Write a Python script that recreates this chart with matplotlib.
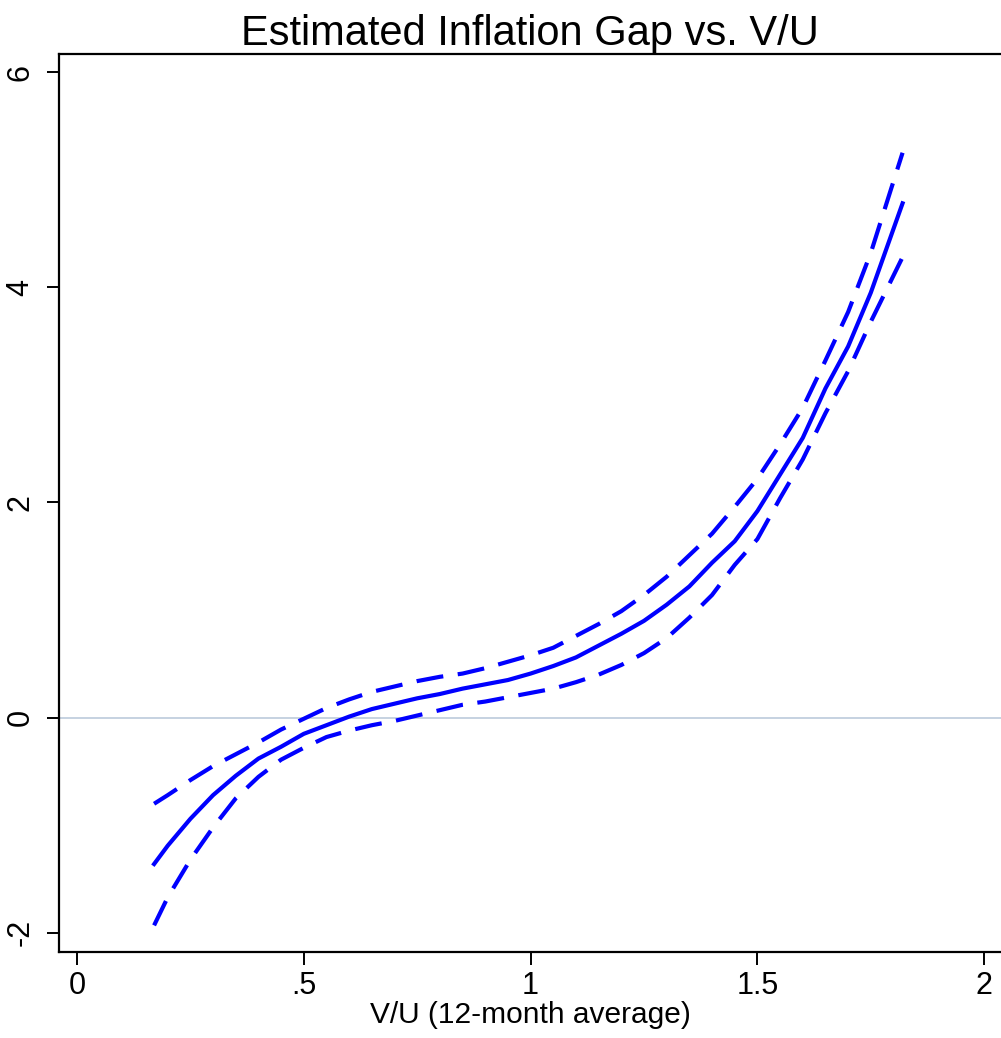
#!/usr/bin/env python3
"""
Estimated inflation gap vs. V/U, with confidence band
"""

import matplotlib
matplotlib.use("Agg")
import matplotlib.pyplot as plt

# V/U grid (12-month average)
vu = [0.17, 0.20, 0.25, 0.30, 0.35, 0.40, 0.45, 0.50, 0.55, 0.60, 0.65, 0.70,
      0.75, 0.80, 0.85, 0.90, 0.95, 1.00, 1.05, 1.10, 1.15, 1.20, 1.25, 1.30,
      1.35, 1.40, 1.45, 1.50, 1.55, 1.60, 1.65, 1.70, 1.75, 1.82]

# estimated gap
gap = [-1.36, -1.19, -0.94, -0.72, -0.54, -0.38, -0.27, -0.15, -0.07, 0.01,
       0.08, 0.13, 0.18, 0.22, 0.27, 0.31, 0.35, 0.41, 0.48, 0.56, 0.67, 0.78,
       0.90, 1.05, 1.22, 1.44, 1.64, 1.92, 2.26, 2.60, 3.06, 3.45, 3.95, 4.78]

# upper / lower bands
upper = [-0.80, -0.72, -0.58, -0.45, -0.34, -0.23, -0.11, -0.01, 0.09, 0.17,
         0.24, 0.29, 0.34, 0.38, 0.41, 0.46, 0.52, 0.58, 0.65, 0.76, 0.87, 0.99,
         1.14, 1.31, 1.51, 1.71, 1.96, 2.22, 2.54, 2.88, 3.32, 3.77, 4.32, 5.25]

lower = [-1.93, -1.67, -1.32, -1.02, -0.75, -0.55, -0.39, -0.28, -0.18, -0.12,
         -0.07, -0.03, 0.02, 0.07, 0.12, 0.15, 0.19, 0.23, 0.27, 0.33, 0.40, 0.49,
         0.60, 0.74, 0.93, 1.14, 1.42, 1.66, 2.04, 2.40, 2.83, 3.22, 3.68, 4.28]

x_ticks = [0, 0.5, 1, 1.5, 2]
x_labels = ["0", ".5", "1", "1.5", "2"]
y_ticks = [-2, 0, 2, 4, 6]
y_labels = ["-2", "0", "2", "4", "6"]

plt.rcParams['font.family'] = ['Liberation Sans', 'DejaVu Sans']

fig = plt.figure(figsize=(10.01, 10.38), dpi=100)
ax = fig.add_axes([0.0589, 0.0829, 0.9411, 0.865])

ax.axhline(0, color='#bccbdc', linewidth=1.2, zorder=1)

blue = '#0000ff'
ax.plot(vu, gap, color=blue, linewidth=3.0, zorder=3)
ax.plot(vu, upper, color=blue, linewidth=3.0, dashes=(6.5, 3.5), zorder=3)
ax.plot(vu, lower, color=blue, linewidth=3.0, dashes=(6.5, 3.5), zorder=3)

ax.set_xlim(-0.0397, 2.037)
ax.set_ylim(-2.177, 6.167)

ax.set_xticks(x_ticks)
ax.set_xticklabels(x_labels)
ax.set_yticks(y_ticks)
ax.set_yticklabels(y_labels, rotation=90, va='center')

ax.tick_params(axis='both', labelsize=22, length=9, width=1.4, color='black')
ax.tick_params(axis='x', pad=5)
ax.tick_params(axis='y', pad=8)

for side in ['left', 'bottom', 'top']:
    ax.spines[side].set_linewidth(1.6)
ax.spines['right'].set_visible(False)

ax.set_xlabel('V/U (12-month average)', fontsize=21.5, labelpad=0)
ax.set_title('Estimated Inflation Gap vs. V/U', fontsize=30, pad=4)

fig.savefig('out.png', dpi=100)
